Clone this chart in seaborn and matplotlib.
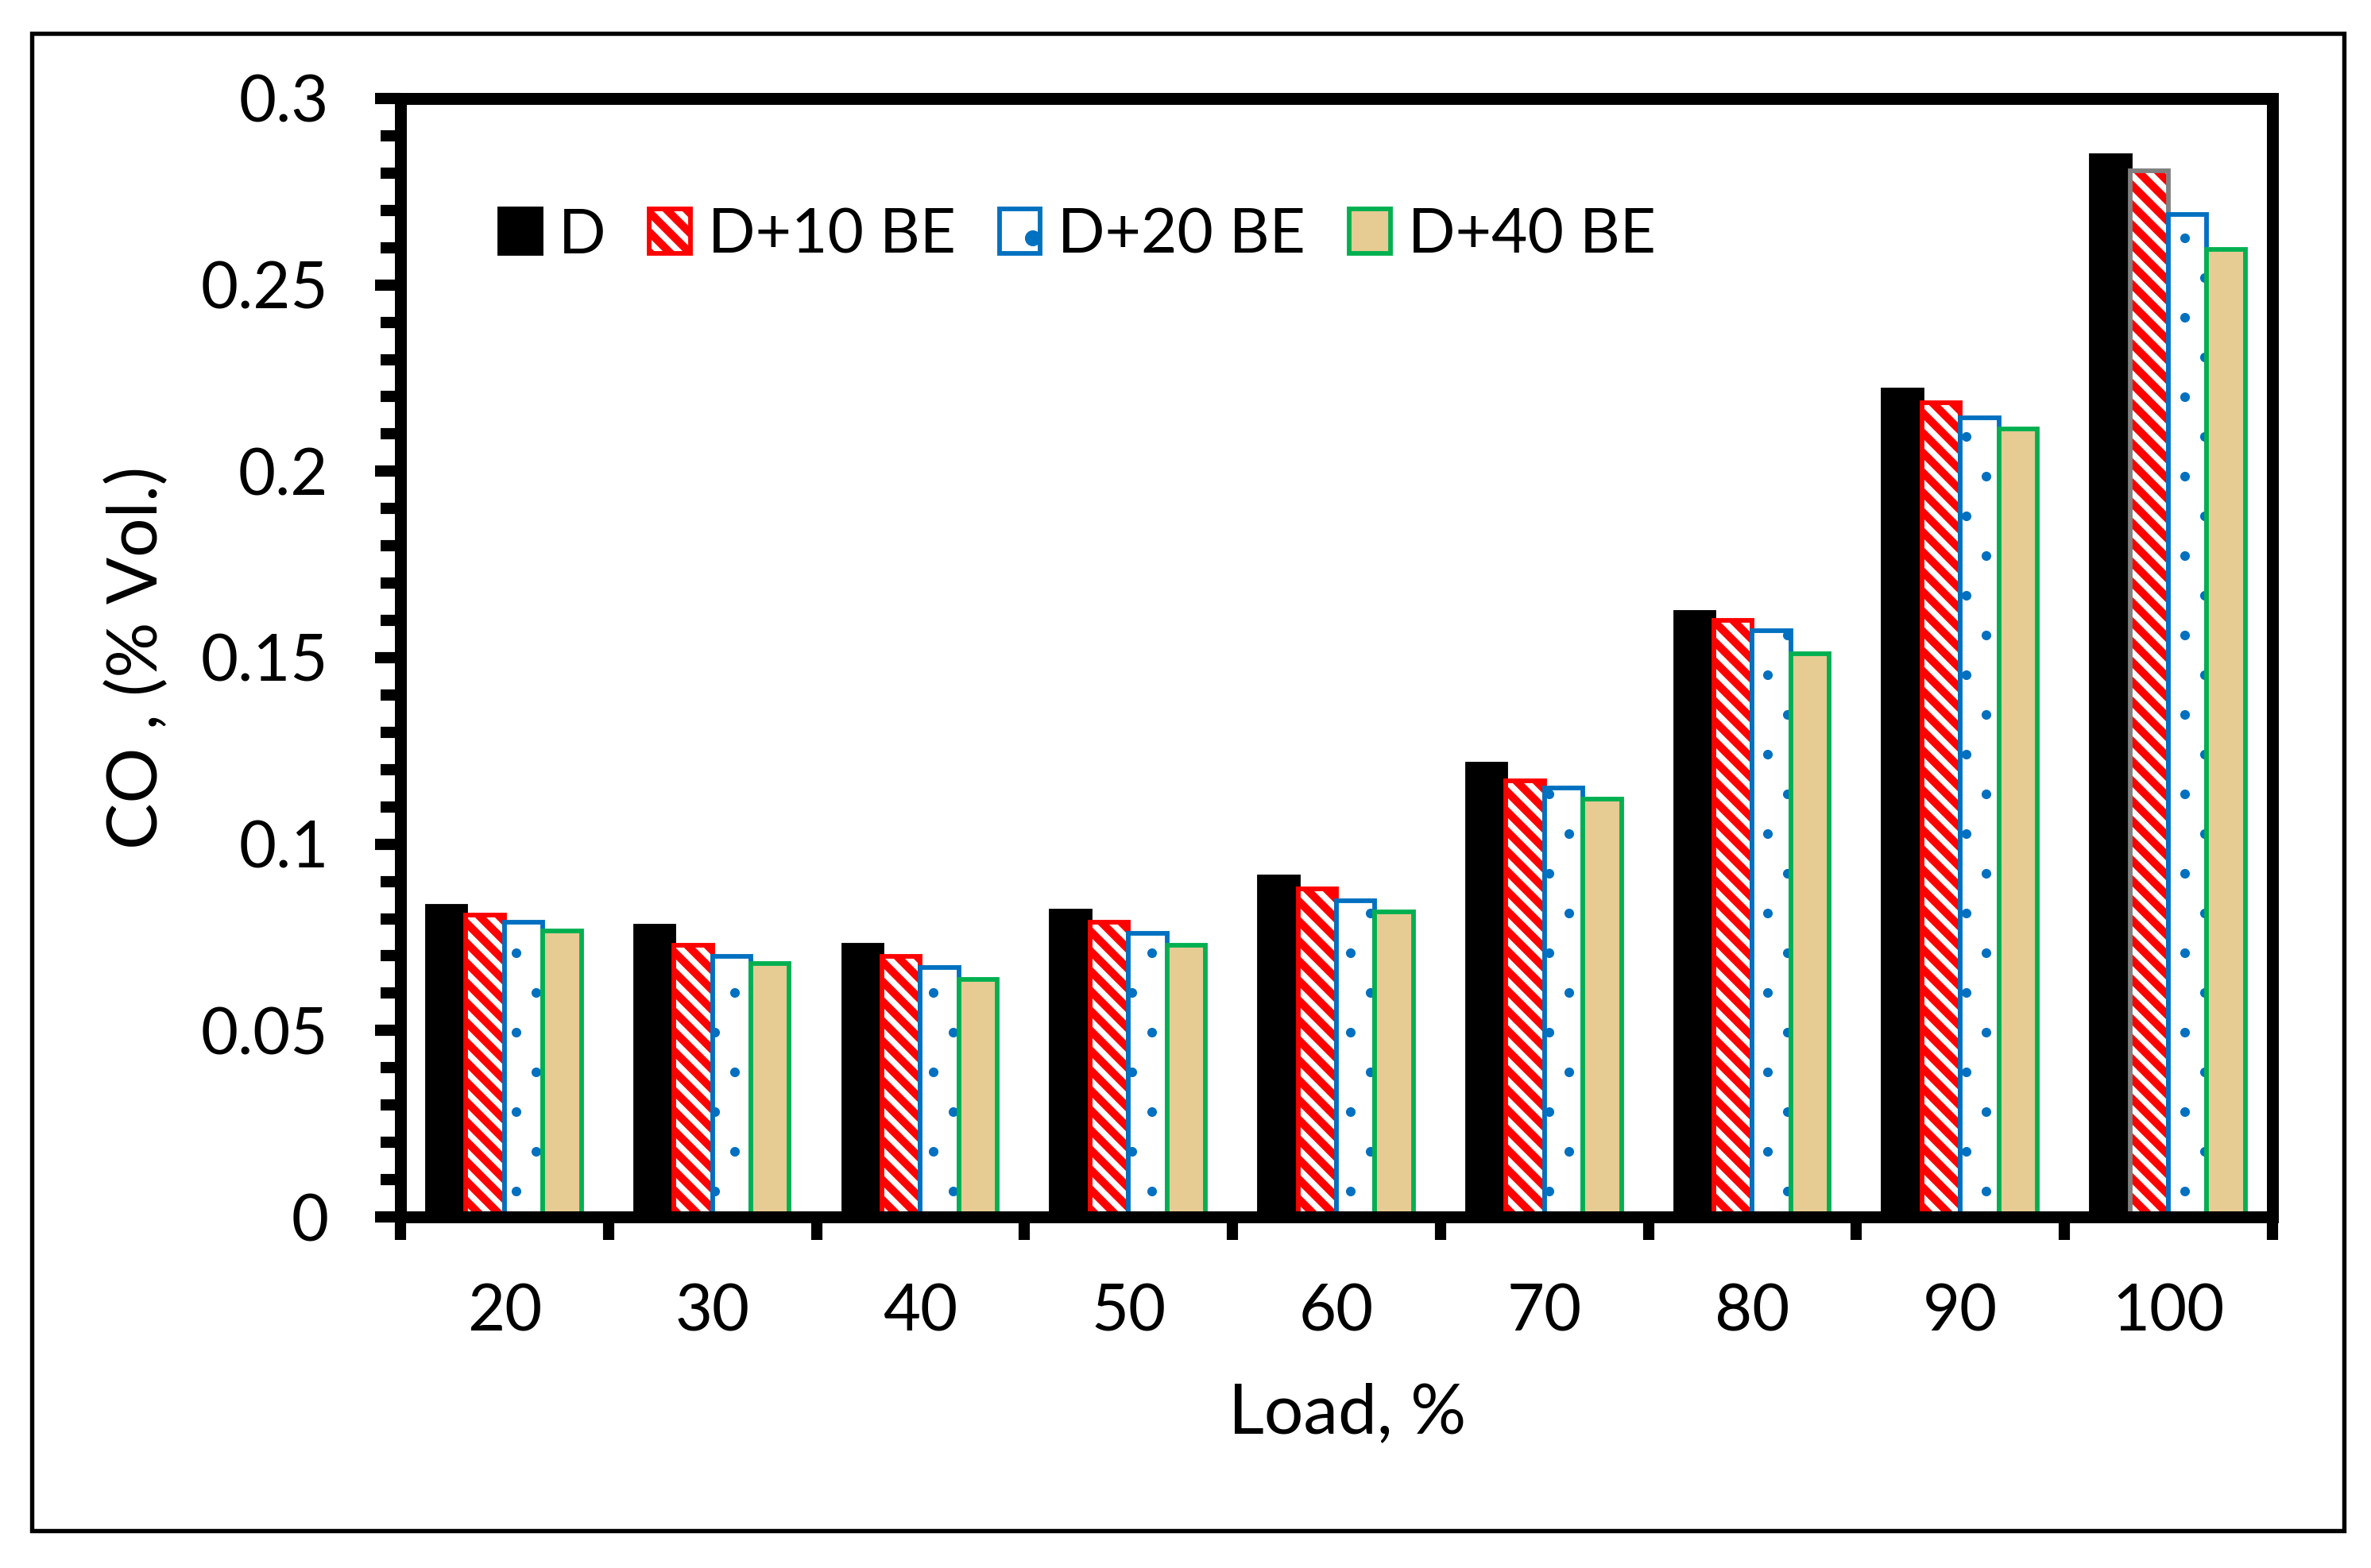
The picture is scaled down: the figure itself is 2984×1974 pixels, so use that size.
import numpy as np
import pandas as pd
import seaborn as sns
import matplotlib
matplotlib.use("Agg")
import matplotlib.pyplot as plt
import matplotlib.colors as mcolors
from matplotlib.patches import Rectangle
from matplotlib.ticker import FixedLocator, MultipleLocator

# ---------------- data ----------------
loads = ["20", "30", "40", "50", "60", "70", "80", "90", "100"]
fuels = ["D", "D+10 BE", "D+20 BE", "D+40 BE"]
co_d = [0.0833, 0.0780, 0.0728, 0.0821, 0.0913, 0.1215, 0.1622, 0.2218, 0.2847]
co_d10 = [0.0810, 0.0728, 0.0698, 0.0791, 0.0879, 0.1170, 0.1601, 0.2184, 0.2806]
co_d20 = [0.0790, 0.0698, 0.0670, 0.0761, 0.0849, 0.1150, 0.1573, 0.2143, 0.2688]
co_d40 = [0.0767, 0.0679, 0.0638, 0.0728, 0.0819, 0.1120, 0.1510, 0.2113, 0.2596]
yticks = [0, 0.05, 0.1, 0.15, 0.2, 0.25, 0.3]
ytick_labels = ["0", "0.05", "0.1", "0.15", "0.2", "0.25", "0.3"]

# ---------------- styles ----------------
faces = ["#000000", "#FFFFFF", "#FFFFFF", "#E6CB93"]
edges = ["#000000", "#FF0000", "#0070C0", "#00B050"]
hatches = [None, "\\\\\\\\", ".", None]
hatch_lw = [None, 2.4, 0.5, None]

df = pd.DataFrame({
    "Load": loads * 4,
    "CO": co_d + co_d10 + co_d20 + co_d40,
    "Fuel": [f for f in fuels for _ in loads],
})

sns.set_theme(style="white")
plt.rcParams["font.family"] = ["Lato", "DejaVu Sans"]
plt.rcParams["text.color"] = "black"
plt.rcParams["axes.labelcolor"] = "black"
plt.rcParams["xtick.color"] = "black"
plt.rcParams["ytick.color"] = "black"
plt.rcParams["hatch.linewidth"] = 2.4

FS = 19.5
LFS = 21
fig = plt.figure(figsize=(2984 / 300, 1974 / 300), dpi=300)
ax = fig.add_axes([0.1689, 0.2239, 0.9584 - 0.1689, 0.9372 - 0.2239])

sns.barplot(data=df, x="Load", y="CO", hue="Fuel", order=loads, hue_order=fuels,
            palette=dict(zip(fuels, faces)), saturation=1, width=0.74, gap=0,
            errorbar=None, legend=False, ax=ax)


def style_patch(p, i):
    p.set_edgecolor(edges[i])
    p.set_linewidth(1.4)
    if hatches[i]:
        p.set_hatch(hatches[i])
        if hasattr(p, "set_hatch_linewidth"):
            p.set_hatch_linewidth(hatch_lw[i])
        else:
            p._hatch_linewidth = hatch_lw[i]


for i, cont in enumerate(ax.containers):
    for p in cont:
        style_patch(p, i)

# grey outline on the 100 % D+10 BE bar, hatch stays red
p = ax.containers[1][8]
p.set_edgecolor("#808080")
if hasattr(p, "set_hatchcolor"):
    p.set_hatchcolor("#FF0000")
else:
    p._hatch_color = mcolors.to_rgba("#FF0000")

ax.set_xlim(-0.5, len(loads) - 0.5)
ax.set_ylim(0, 0.3)

ax.yaxis.set_major_locator(FixedLocator(yticks))
ax.set_yticklabels(ytick_labels)
ax.yaxis.set_minor_locator(MultipleLocator(0.01))
ax.tick_params(axis="y", which="major", direction="out", length=7.7, width=3.4,
               pad=14, labelsize=FS, left=True, color="black")
ax.tick_params(axis="y", which="minor", direction="out", length=5.9, width=3.4,
               left=True, color="black")

ax.set_xticks(range(len(loads)))
ax.set_xticklabels(loads)
ax.tick_params(axis="x", which="major", length=0, pad=20, labelsize=FS)
ax.set_xticks(np.arange(-0.5, len(loads), 1.0), minor=True)
ax.tick_params(axis="x", which="minor", direction="out", length=7, width=3.4,
               bottom=True, color="black")

for s in ax.spines.values():
    s.set_linewidth(3.6)
    s.set_color("black")
    s.set_visible(True)

ax.set_ylabel("CO , (% Vol.)", fontsize=LFS)
ax.yaxis.set_label_coords(-0.1235, 0.5)
ax.set_xlabel("Load, %", fontsize=LFS)
ax.xaxis.set_label_coords(0.506, -0.148)

ax.legend(handles=list(ax.containers), labels=fuels, loc="center left",
          bbox_to_anchor=(0.0531, 0.877), ncol=4, frameon=False, fontsize=18.8,
          handlelength=0.66, handleheight=0.72, handletextpad=0.28,
          columnspacing=0.7, borderpad=0, borderaxespad=0)

fig.add_artist(Rectangle((0.01357, 0.02356), 0.9886 - 0.01357, 0.9787 - 0.02356,
                         transform=fig.transFigure, fill=False,
                         edgecolor="black", linewidth=1.3))

fig.savefig("out.png", dpi=300)
